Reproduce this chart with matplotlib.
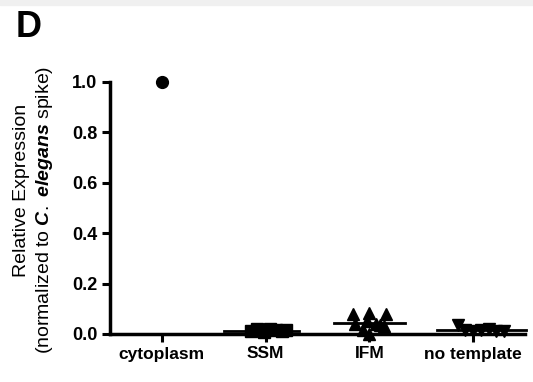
import matplotlib
matplotlib.use("Agg")
import matplotlib.pyplot as plt
from matplotlib.patches import Rectangle
import numpy as np

# groups and their replicate values
categories = ["cytoplasm", "SSM", "IFM", "no template"]
markers = ["o", "s", "^", "v"]

cyto_vals = [1.0]
ssm_vals = [0.012, 0.018, 0.006, 0.02, 0.015, 0.01, 0.016]
ifm_vals = [0.08, 0.085, 0.08, 0.04, 0.03, 0.015, 0.0, 0.04, 0.05, 0.035]
nt_vals = [0.035, 0.015, 0.012, 0.015, 0.018, 0.01, 0.012]

# horizontal spread of points within a column (GraphPad-style scatter)
cyto_spread = [0.0]
ssm_spread = [-0.14, -0.08, -0.02, 0.04, 0.1, 0.16, 0.2]
ifm_spread = [-0.16, 0.0, 0.16, -0.14, 0.14, -0.06, 0.0, 0.06, -0.02, 0.1]
nt_spread = [-0.15, -0.08, 0.0, 0.08, 0.15, 0.22, 0.3]

all_vals = [cyto_vals, ssm_vals, ifm_vals, nt_vals]
all_spread = [cyto_spread, ssm_spread, ifm_spread, nt_spread]
mean_half = [0.0, 0.36, 0.34, 0.43]
mean_shift = [0.0, -0.04, 0.0, 0.08]

plt.rcParams["font.family"] = ["Liberation Sans", "DejaVu Sans"]
plt.rcParams["mathtext.fontset"] = "custom"
plt.rcParams["mathtext.it"] = "Liberation Sans:italic:bold"
plt.rcParams["mathtext.rm"] = "Liberation Sans"

fig = plt.figure(figsize=(5.33, 3.82), dpi=100)
fig.patches.append(Rectangle((0, 1 - 5 / 382), 1, 5 / 382, transform=fig.transFigure,
                             color="#f0f0f0", zorder=0))
ax = fig.add_axes([110 / 533, 1 - 334 / 382, 415 / 533, 252 / 382])

for i, (vals, spread, m) in enumerate(zip(all_vals, all_spread, markers)):
    xs = i + np.array(spread)
    ax.plot(xs, vals, linestyle="none", marker=m, ms=8.5, color="black", clip_on=False, zorder=3)
    if len(vals) > 1:
        mean = np.mean(vals)
        c = i + mean_shift[i]
        ax.plot([c - mean_half[i], c + mean_half[i]], [mean, mean], color="black", lw=2,
                clip_on=False, zorder=2)

ax.set_xlim(-0.5, 3.5)
ax.set_ylim(0, 1.0)
ax.set_yticks([0.0, 0.2, 0.4, 0.6, 0.8, 1.0])
ax.set_yticklabels(["0.0", "0.2", "0.4", "0.6", "0.8", "1.0"], fontweight="bold", fontsize=13)
ax.set_xticks(range(len(categories)))
ax.set_xticklabels(categories, fontweight="bold", fontsize=12.5)

for s in ["top", "right"]:
    ax.spines[s].set_visible(False)
for s in ["left", "bottom"]:
    ax.spines[s].set_linewidth(2.5)
ax.tick_params(axis="both", width=2.2, length=6, pad=3)

fig.text(22 / 533, 1 - 190 / 382, "Relative Expression", rotation=90,
         ha="center", va="center", fontsize=14)
fig.text(45 / 533, 1 - 210 / 382, r"(normalized to $\mathit{C.}$ $\mathit{elegans}$ spike)", rotation=90,
         ha="center", va="center", fontsize=14)
fig.text(16 / 533, 1 - 37 / 382, "D", fontsize=26, fontweight="bold", ha="left", va="baseline")

fig.savefig("out.png", dpi=100)
